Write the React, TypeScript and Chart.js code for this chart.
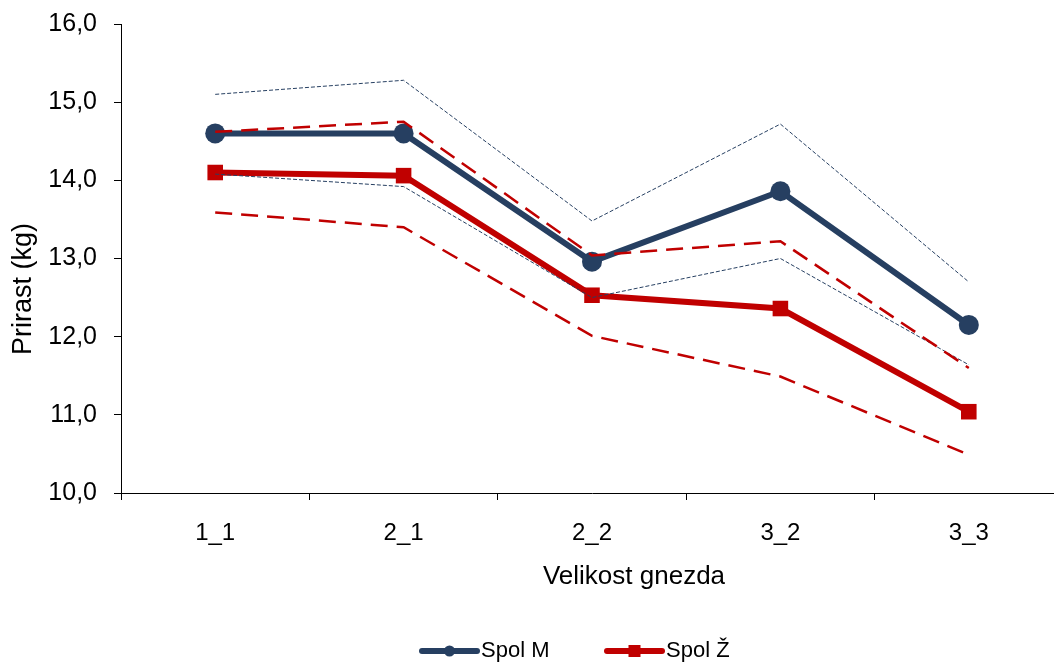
import React, { useEffect, useRef } from "react";
import { Chart, registerables } from "chart.js";

Chart.register(...registerables);

// Nest size groups
const categories = ["1_1", "2_1", "2_2", "3_2", "3_3"];

// Mean weight gain (kg) per sex
const spolM = [14.6, 14.6, 12.96, 13.86, 12.15];
const spolZ = [14.1, 14.06, 12.53, 12.36, 11.04];

// Confidence band limits
const spolMUpper = [15.1, 15.28, 13.48, 14.72, 12.7];
const spolMLower = [14.08, 13.92, 12.5, 13.0, 11.64];
const spolZUpper = [14.62, 14.75, 13.04, 13.22, 11.6];
const spolZLower = [13.59, 13.4, 12.01, 11.49, 10.49];

const yTicks = [10, 11, 12, 13, 14, 15, 16];

const NAVY = "#263f61";
const RED = "#c00000";
const FONT = "'Liberation Sans', Arial, sans-serif";

const labelsPlugin = {
  id: "labelsAndLegend",
  afterDraw(chart: any) {
    const ctx = chart.ctx as CanvasRenderingContext2D;
    ctx.save();
    ctx.fillStyle = "#000";
    ctx.textAlign = "center";
    ctx.textBaseline = "middle";
    // axis titles
    ctx.font = `26px ${FONT}`;
    ctx.fillText("Velikost gnezda", 634, 577);
    ctx.save();
    ctx.translate(24, 289);
    ctx.rotate(-Math.PI / 2);
    ctx.font = `27px ${FONT}`;
    ctx.fillText("Prirast (kg)", 0, 0);
    ctx.restore();

    // legend
    const ly = 651;
    const items = [
      { x: 422, label: "Spol M", color: NAVY, style: "circle" },
      { x: 607, label: "Spol Ž", color: RED, style: "rect" },
    ];
    ctx.font = `22px ${FONT}`;
    ctx.textAlign = "left";
    for (const it of items) {
      ctx.strokeStyle = it.color;
      ctx.lineWidth = 6;
      ctx.lineCap = "round";
      ctx.beginPath();
      ctx.moveTo(it.x, ly);
      ctx.lineTo(it.x + 55, ly);
      ctx.stroke();
      ctx.fillStyle = it.color;
      if (it.style === "circle") {
        ctx.beginPath();
        ctx.arc(it.x + 27.5, ly, 5.5, 0, Math.PI * 2);
        ctx.fill();
      } else {
        ctx.fillRect(it.x + 27.5 - 6, ly - 6, 12, 12);
      }
      ctx.fillStyle = "#000";
      ctx.fillText(it.label, it.x + 59, ly);
    }
    ctx.restore();
  },
};

export default function App() {
  const ref = useRef<HTMLCanvasElement | null>(null);

  useEffect(() => {
    if (!ref.current) return;
    const band = (data: number[], color: string, dash: number[], width: number, order: number) => ({
      data,
      borderColor: color,
      borderWidth: width,
      borderDash: dash,
      pointRadius: 0,
      pointHoverRadius: 0,
      fill: false,
      tension: 0,
      order,
    });
    const chart = new Chart(ref.current, {
      type: "line",
      data: {
        labels: categories,
        datasets: [
          {
            label: "Spol M",
            data: spolM,
            borderColor: NAVY,
            backgroundColor: NAVY,
            borderWidth: 6,
            pointStyle: "circle",
            pointRadius: 10,
            pointBorderWidth: 0,
            fill: false,
            tension: 0,
            order: 5,
          },
          {
            label: "Spol Ž",
            data: spolZ,
            borderColor: RED,
            backgroundColor: RED,
            borderWidth: 6,
            pointStyle: "rect",
            pointRadius: 11,
            pointBorderWidth: 0,
            fill: false,
            tension: 0,
            order: 4,
          },
          { label: "M zg", ...band(spolMUpper, NAVY, [4, 2], 1, 3) },
          { label: "M sp", ...band(spolMLower, NAVY, [4, 2], 1, 3) },
          { label: "Ž zg", ...band(spolZUpper, RED, [17, 9], 2.5, 1) },
          { label: "Ž sp", ...band(spolZLower, RED, [17, 9], 2.5, 1) },
        ],
      },
      options: {
        animation: false,
        responsive: false,
        events: [],
        layout: { padding: { top: 24, right: 2, left: 0, bottom: 0 } },
        plugins: {
          legend: { display: false },
          tooltip: { enabled: false },
        },
        scales: {
          x: {
            offset: true,
            grid: {
              offset: true,
              drawOnChartArea: false,
              drawTicks: true,
              tickLength: 7,
              color: "#000",
            },
            border: { display: true, color: "#000", width: 1 },
            ticks: {
              color: "#000",
              font: { family: FONT, size: 24 },
              padding: 19,
              maxRotation: 0,
            },
            afterFit(scale: any) {
              scale.height = 170;
              scale.paddingLeft = 0;
              scale.paddingRight = 0;
            },
          },
          y: {
            min: 10,
            max: 16,
            afterBuildTicks(scale: any) {
              scale.ticks = yTicks.map((v) => ({ value: v }));
            },
            grid: {
              drawOnChartArea: false,
              drawTicks: true,
              tickLength: 7,
              color: "#000",
            },
            border: { display: true, color: "#000", width: 1 },
            ticks: {
              color: "#000",
              font: { family: FONT, size: 25 },
              padding: 17,
              callback: (v: any) => Number(v).toFixed(1).replace(".", ","),
            },
            afterFit(scale: any) {
              scale.width = 121;
              scale.paddingTop = 0;
              scale.paddingBottom = 0;
            },
          },
        },
      },
      plugins: [labelsPlugin],
    });
    return () => chart.destroy();
  }, []);

  return (
    <div
      style={{
        position: "fixed",
        left: 0,
        top: 0,
        width: 1054,
        height: 663,
        overflow: "hidden",
        background: "#fff",
      }}
    >
      <canvas ref={ref} width={1074} height={663} style={{ display: "block" }} />
    </div>
  );
}
